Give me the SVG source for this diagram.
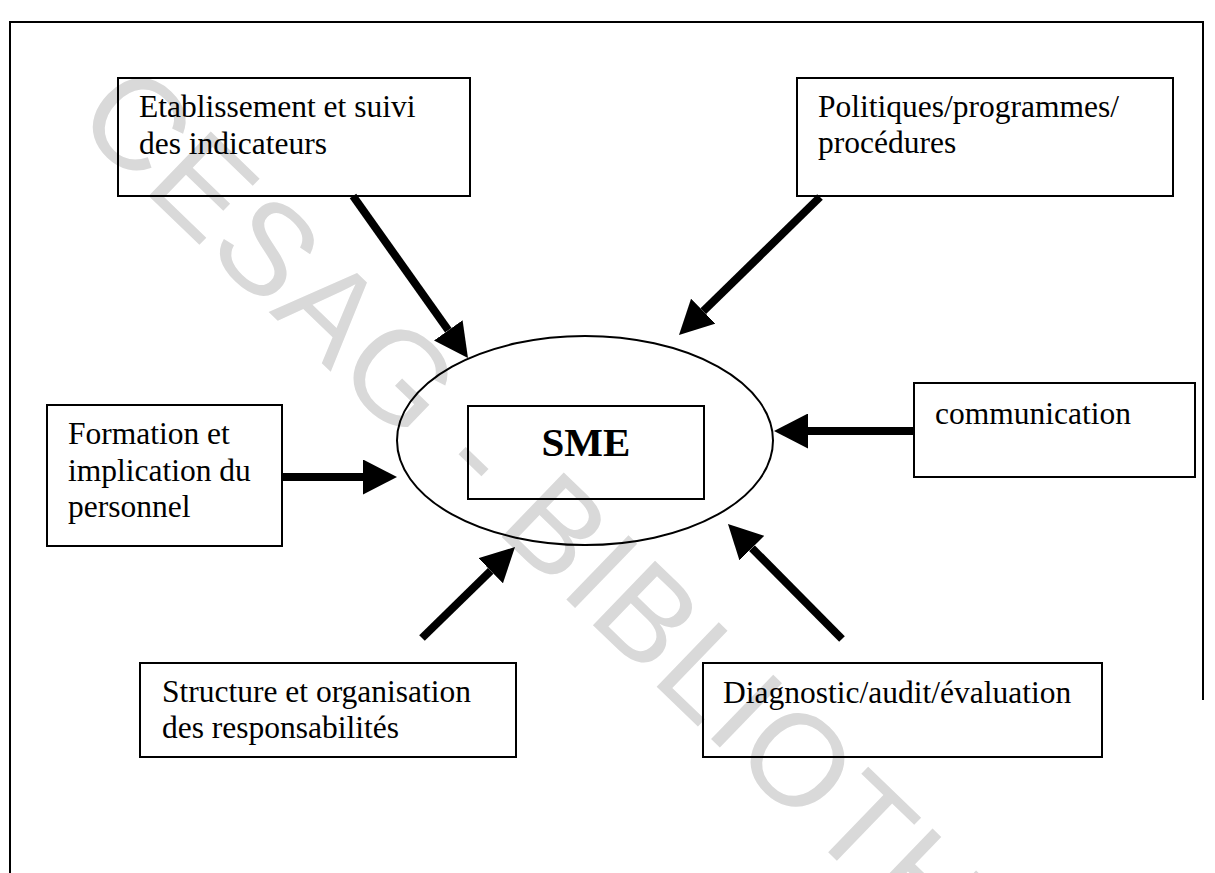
<svg xmlns="http://www.w3.org/2000/svg" width="1215" height="873" viewBox="0 0 1215 873">
  <style>
    .box { fill: none; stroke: #000; stroke-width: 2; }
    .lbl { font-family: "Liberation Serif", "Times New Roman", serif; font-size: 31.5px; fill: #000; }
    .big { font-family: "Liberation Serif", "Times New Roman", serif; font-size: 41px; font-weight: bold; fill: #000; }
    .arr { stroke: #000; stroke-width: 8; fill: none; marker-end: url(#head); }
    .wm { font-family: "Liberation Sans", Arial, sans-serif; font-size: 130px; fill: #d9d9d9; }
  </style>
  <defs>
    <marker id="head" markerUnits="userSpaceOnUse" viewBox="0 0 34 35" markerWidth="34" markerHeight="35" refX="0" refY="17.5" orient="auto">
      <path d="M0,0 L34,17.5 L0,35 Z" fill="#000"/>
    </marker>
  </defs>
  <rect width="1215" height="873" fill="#fff"/>
  <g id="watermark">
    <text class="wm" transform="translate(72,122) rotate(44)" letter-spacing="2">CESAG - BIBLIOTHEQUE</text>
  </g>
  <g id="frame">
    <path d="M10,873 L10,22 L1203,22 L1203,700" class="box"/>
  </g>
  <g id="connectors">
    <line class="arr" x1="353" y1="196" x2="448.3" y2="330.3"/>
    <line class="arr" x1="820" y1="197" x2="703.3" y2="311.2"/>
    <line class="arr" x1="282" y1="477" x2="363" y2="477"/>
    <line class="arr" x1="914" y1="431" x2="808" y2="431"/>
    <line class="arr" x1="422" y1="638" x2="490.7" y2="570.8"/>
    <line class="arr" x1="842" y1="639" x2="751.9" y2="548.1"/>
  </g>
  <g id="node-sme">
    <ellipse cx="585" cy="440.5" rx="188" ry="104.5" class="box"/>
    <rect x="468" y="406" width="236" height="93" class="box"/>
    <text class="big" x="586" y="456" text-anchor="middle">SME</text>
  </g>
  <g id="node-indicateurs">
    <rect x="118" y="78" width="352" height="118" class="box"/>
    <text class="lbl" x="139" y="117">Etablissement et suivi</text>
    <text class="lbl" x="139" y="154">des indicateurs</text>
  </g>
  <g id="node-politiques">
    <rect x="797" y="78" width="376" height="118" class="box"/>
    <text class="lbl" x="818" y="117">Politiques/programmes/</text>
    <text class="lbl" x="818" y="153">procédures</text>
  </g>
  <g id="node-formation">
    <rect x="47" y="405" width="235" height="141" class="box"/>
    <text class="lbl" x="68" y="444">Formation et</text>
    <text class="lbl" x="68" y="481">implication du</text>
    <text class="lbl" x="68" y="517">personnel</text>
  </g>
  <g id="node-communication">
    <rect x="914" y="383" width="281" height="94" class="box"/>
    <text class="lbl" x="935" y="424">communication</text>
  </g>
  <g id="node-structure">
    <rect x="140" y="663" width="376" height="94" class="box"/>
    <text class="lbl" x="162" y="702">Structure et organisation</text>
    <text class="lbl" x="162" y="738">des responsabilités</text>
  </g>
  <g id="node-diagnostic">
    <rect x="703" y="663" width="399" height="94" class="box"/>
    <text class="lbl" x="723" y="703">Diagnostic/audit/évaluation</text>
  </g>
</svg>
